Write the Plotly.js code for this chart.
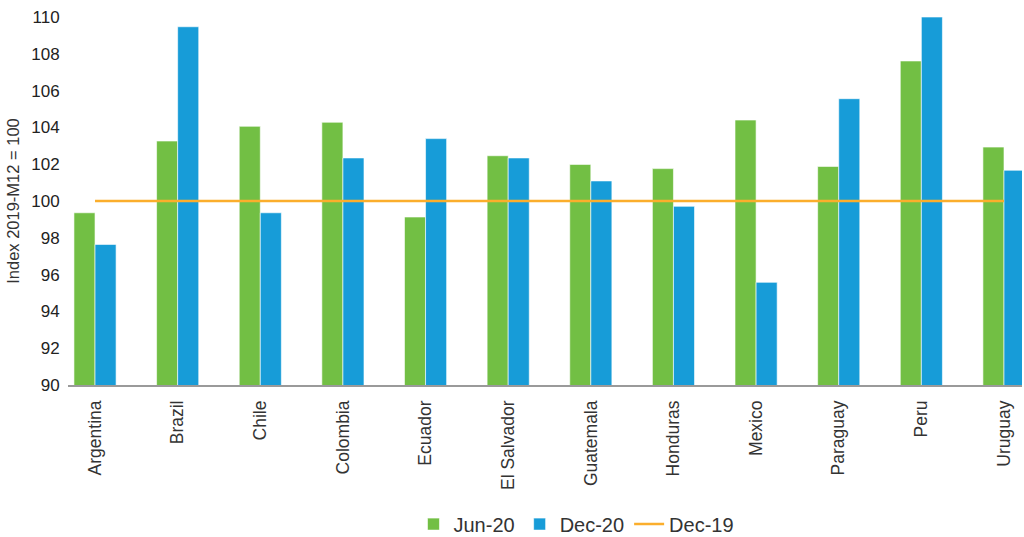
<!DOCTYPE html>
<html>
<head>
<meta charset="utf-8">
<script src="https://cdn.plot.ly/plotly-3.0.1.min.js"></script>
<style>html,body{margin:0;padding:0;background:#fff;}#chart{width:1024px;height:537px;}</style>
</head>
<body>
<div id="chart"></div>
<script>
var countries = ["Argentina","Brazil","Chile","Colombia","Ecuador","El Salvador","Guatemala","Honduras","Mexico","Paraguay","Peru","Uruguay"];
var jun20 = [99.36,103.26,104.06,104.28,99.13,102.46,101.99,101.76,104.40,101.88,107.61,102.93];
var dec20 = [97.64,109.47,99.36,102.34,103.39,102.34,101.09,99.71,95.58,105.56,110.0,101.67];
var dec19 = [100,100,100,100,100,100,100,100,100,100,100,100];
var yTicks = [90,92,94,96,98,100,102,104,106,108,110];

var fam = "Liberation Sans, Arial, sans-serif";
var traces = [
  {type:"bar", name:"Jun-20", x:countries, y:jun20, marker:{color:"#72BF44", line:{color:"rgba(255,255,255,0.6)", width:1}}},
  {type:"bar", name:"Dec-20", x:countries, y:dec20, marker:{color:"#179CD8", line:{color:"rgba(255,255,255,0.6)", width:1}}},
  {type:"scatter", mode:"lines", name:"Dec-19", x:countries, y:dec19, line:{color:"#FBAE2C", width:2.5}}
];
var layout = {
  width:1024, height:537,
  margin:{l:68, r:2, t:17, b:152, autoexpand:false},
  paper_bgcolor:"#fff", plot_bgcolor:"#fff",
  font:{family:fam, size:17, color:"#333"},
  barmode:"group", bargap:0.49, bargroupgap:0,
  showlegend:true,
  legend:{orientation:"h", x:0.533, xanchor:"center", y:-0.378, yanchor:"middle", font:{family:fam, size:20, color:"#333"}, itemwidth:30, traceorder:"normal"},
  xaxis:{type:"category", range:[-0.327, 11.218], tickangle:-90, automargin:false, showgrid:false, showline:true, linecolor:"#9a9a9a", linewidth:1.5, ticks:"outside", ticklen:7, tickcolor:"rgba(0,0,0,0)", tickfont:{family:fam, size:17.5, color:"#333"}, zeroline:false, fixedrange:true},
  yaxis:{range:[90,110], tickvals:yTicks, automargin:false, showgrid:false, zeroline:false, showline:false, ticks:"outside", ticklen:4, tickcolor:"rgba(0,0,0,0)", tickfont:{family:fam, size:17, color:"#222"}, title:{text:"Index 2019-M12 = 100", font:{family:fam, size:16.5, color:"#333"}, standoff:7}, fixedrange:true}
};
Plotly.newPlot("chart", traces, layout, {displayModeBar:false, staticPlot:true});
</script>
</body>
</html>
